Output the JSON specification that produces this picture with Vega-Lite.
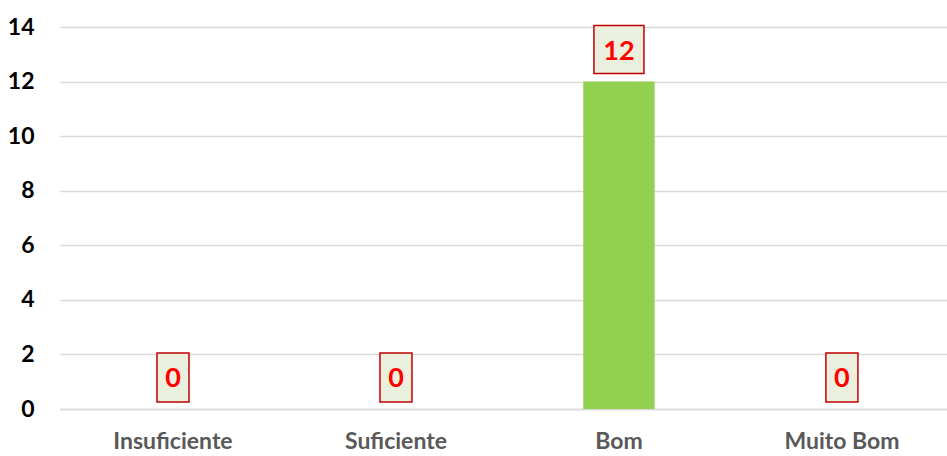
{
  "$schema": "https://vega.github.io/schema/vega-lite/v6.json",
  "width": 887,
  "height": 382,
  "autosize": {"type": "none"},
  "padding": {"left": 60, "top": 27, "right": 0, "bottom": 47},
  "background": "white",
  "config": {"view": {"stroke": null}, "font": "Lato"},
  "data": {
    "values": [
      {"category": "Insuficiente", "value": 0},
      {"category": "Suficiente", "value": 0},
      {"category": "Bom", "value": 12},
      {"category": "Muito Bom", "value": 0}
    ]
  },
  "encoding": {
    "x": {
      "field": "category",
      "type": "nominal",
      "sort": null,
      "scale": {"paddingInner": 0.68, "paddingOuter": 0.329, "align": 0.527},
      "axis": {
        "title": null,
        "labelAngle": 0,
        "labelFont": "Lato",
        "labelFontWeight": "bold",
        "labelFontSize": 23,
        "labelColor": "#595959",
        "labelPadding": 21,
        "ticks": false,
        "domain": true,
        "domainColor": "#D9D9D9",
        "domainWidth": 1.5
      }
    },
    "y": {
      "field": "value",
      "type": "quantitative",
      "scale": {"domain": [0, 14], "nice": false},
      "axis": {
        "title": null,
        "values": [0, 2, 4, 6, 8, 10, 12, 14],
        "labelFont": "Lato",
        "labelFontWeight": "bold",
        "labelFontSize": 23,
        "labelColor": "#000000",
        "labelPadding": 26,
        "ticks": false,
        "domain": false,
        "gridColor": "#D9D9D9",
        "gridWidth": 1.5
      }
    }
  },
  "layer": [
    {"mark": {"type": "bar", "color": "#92D050"}},
    {
      "transform": [{"filter": "datum.value < 10"}],
      "mark": {"type": "bar", "width": 32, "fill": "#EBF0DE", "stroke": "#C00000", "strokeWidth": 1.5, "yOffset": -56, "y2Offset": -7},
      "encoding": {"y2": {"field": "value"}}
    },
    {
      "transform": [{"filter": "datum.value >= 10"}],
      "mark": {"type": "bar", "width": 50, "fill": "#EBF0DE", "stroke": "#C00000", "strokeWidth": 1.5, "yOffset": -56, "y2Offset": -8},
      "encoding": {"y2": {"field": "value"}}
    },
    {
      "mark": {"type": "text", "font": "Lato", "fontWeight": "bold", "fontSize": 27, "color": "#FF0000", "baseline": "middle", "dy": -30},
      "encoding": {"text": {"field": "value", "type": "quantitative"}}
    }
  ]
}
